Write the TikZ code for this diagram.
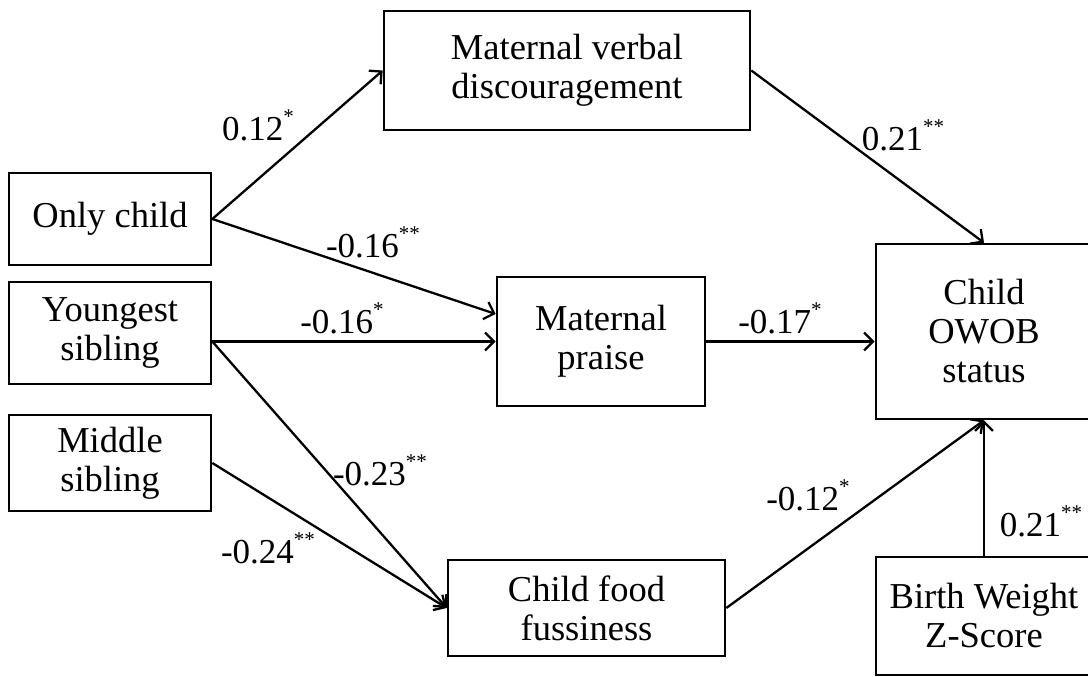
\documentclass[tikz,border=0pt]{standalone}
\usepackage{fontspec}
\setmainfont{Liberation Serif}
\usetikzlibrary{arrows.meta,calc}
\newcommand{\sg}[1]{\raisebox{1.05ex}{\fontsize{21}{21}\selectfont #1}}
\begin{document}
\begin{tikzpicture}[x=1pt,y=-1pt,
  box/.style={draw, line width=2.6pt, rectangle, inner sep=0pt, align=center,
    font=\fontsize{36.5}{39}\selectfont},
  path/.style={line width=2.3pt, -{Straight Barb[length=9pt,width=18pt,line width=2.3pt]}},
  lab/.style={inner sep=0pt, font=\fontsize{35}{39}\selectfont}]
\useasboundingbox (0,0) rectangle (1088,677);
\node[box, minimum width=366pt, minimum height=119pt] (mvd) at (567,70.5) {Maternal verbal\\discouragement};
\node[box, minimum width=202pt, minimum height=92pt] (only) at (110,219) {Only child};
\node[box, minimum width=202pt, minimum height=102pt] (young) at (110,333) {Youngest\\sibling};
\node[box, minimum width=202pt, minimum height=96pt] (middle) at (110,463) {Middle\\sibling};
\node[box, minimum width=208pt, minimum height=129pt] (praise) at (601,341.5) {Maternal\\praise};
\node[box, minimum width=216pt, minimum height=175pt] (owob) at (984,331.5) {Child\\OWOB\\status};
\node[box, minimum width=277pt, minimum height=96pt] (food) at (586.5,608) {Child food\\fussiness};
\node[box, minimum width=216pt, minimum height=118pt] (birth) at (984,616) {Birth Weight\\Z-Score};

\coordinate (ys) at (young.east |- praise.west);
\draw[path] (only.east) -- (mvd.west);
\draw[path] (only.east) -- ([yshift=27.5pt]praise.west);
\draw[path] (ys) -- (praise.west);
\draw[path] (ys) -- (food.west);
\draw[path] (middle.east) -- (food.west);
\draw[path] (mvd.east) -- (owob.north);
\draw[path] (praise.east) -- (praise.east -| owob.west);
\draw[path] (food.east) -- (owob.south);
\draw[path] (birth.north) -- (owob.south);

\node[lab] (l1) at (258,125) {0.12\sg{*}};
\node[lab] (l2) at (373,242) {-0.16\sg{**}};
\node[lab] (l3) at (342,318) {-0.16\sg{*}};
\node[lab] (l4) at (380,470) {-0.23\sg{**}};
\node[lab] (l5) at (268,548) {-0.24\sg{**}};
\node[lab] (l6) at (903,135) {0.21\sg{**}};
\node[lab] (l7) at (780,318) {-0.17\sg{*}};
\node[lab] (l8) at (808,495) {-0.12\sg{*}};
\node[lab] (l9) at (1041,521) {0.21\sg{**}};
\end{tikzpicture}
\end{document}
